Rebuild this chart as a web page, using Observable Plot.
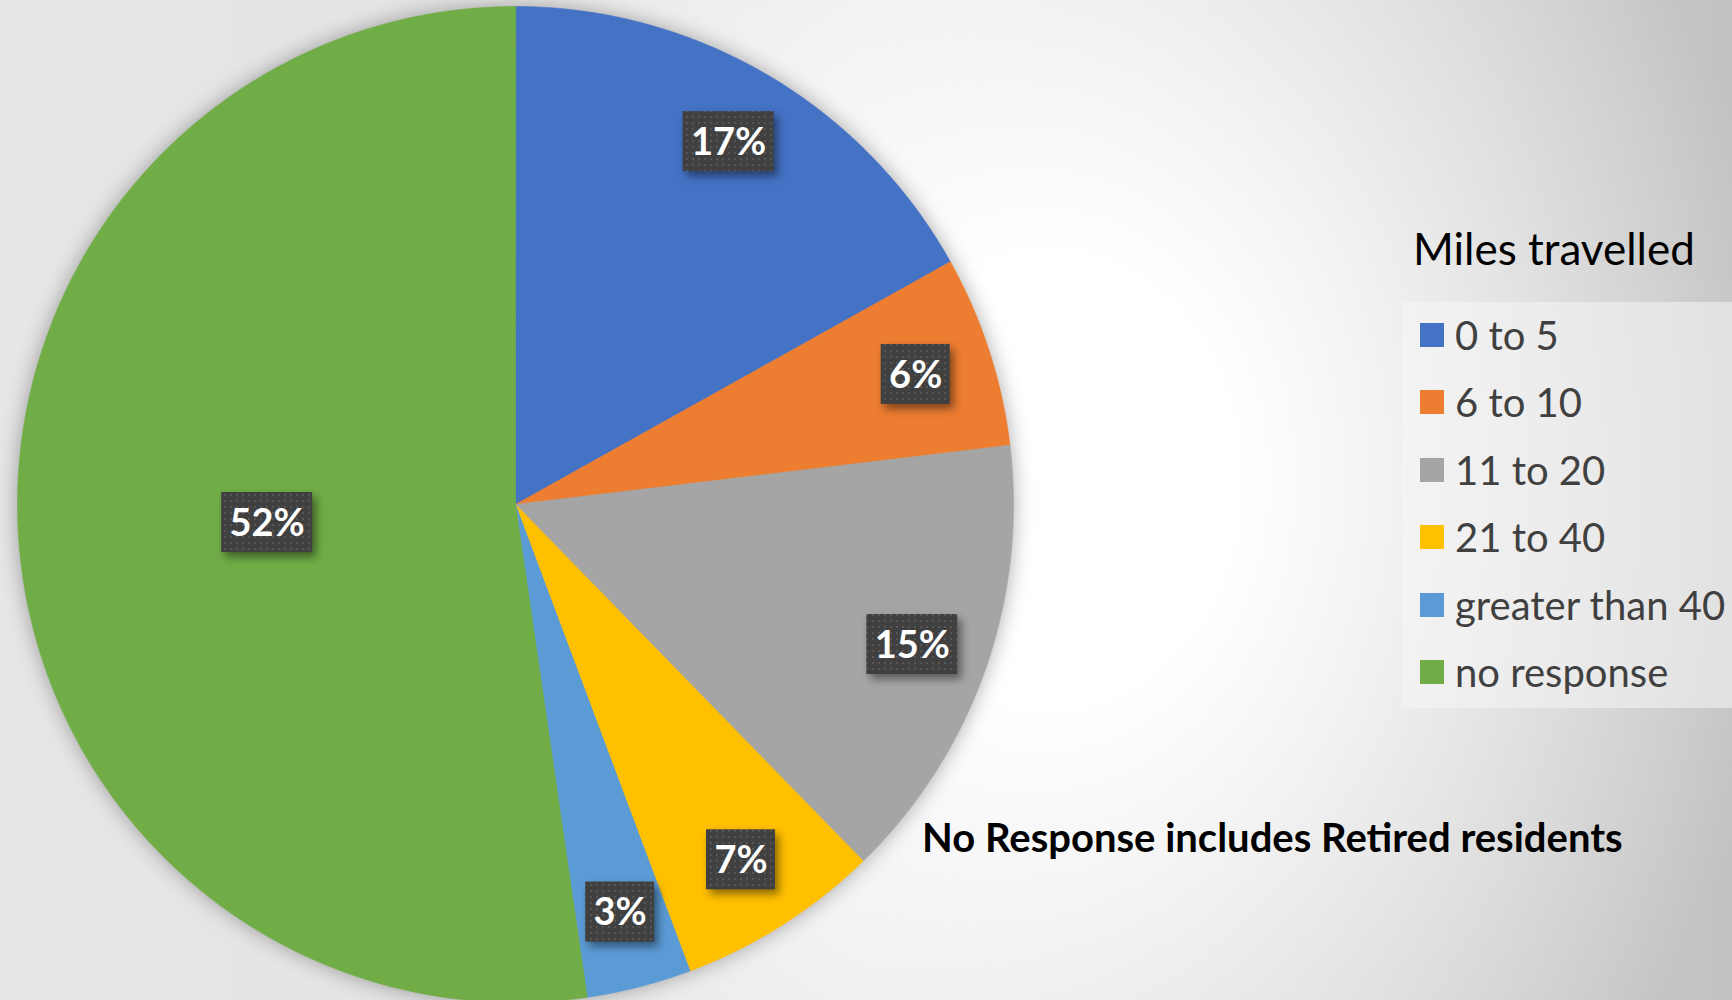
<!DOCTYPE html>
<html>
<head>
<meta charset="utf-8">
<script src="https://cdn.jsdelivr.net/npm/d3@7"></script>
<script src="https://cdn.jsdelivr.net/npm/@observablehq/plot@0.6"></script>
<style>
  html, body { margin: 0; padding: 0; }
  body {
    width: 1732px; height: 1000px; overflow: hidden;
    background:
      radial-gradient(ellipse 750px 900px at 1050px 480px, rgba(255,255,255,1) 0%, rgba(255,255,255,1) 25%, rgba(255,255,255,0.6) 55%, rgba(255,255,255,0) 100%),
      linear-gradient(to right, #e6e6e6 0%, #e2e2e2 50%, #c2c2c2 100%);
    font-family: Lato, "Open Sans", sans-serif;
  }
  #wrap { position: relative; width: 1732px; height: 1000px; }
  #chart { position: absolute; left: 0; top: 0; }
  #legend-title { position: absolute; left: 1413px; top: 226px; font-size: 44px; line-height: 44px; color: #000; white-space: nowrap; }
  #legend-box { position: absolute; left: 1402px; top: 302px; width: 330px; height: 406px; background: rgba(245,245,245,0.55); }
  .row { position: absolute; left: 1420px; height: 68px; display: flex; align-items: center; white-space: nowrap; }
  .sw { width: 24px; height: 24px; margin-right: 11px; }
  .lab { font-size: 40px; line-height: 40px; color: #404040; }
  #note { position: absolute; left: 922px; top: 817px; font-size: 40px; line-height: 40px; font-weight: bold; color: #000; white-space: nowrap; }
</style>
</head>
<body>
<div id="wrap">
  <div id="chart"></div>
  <div id="legend-box"></div>
  <div id="legend-title"></div>
  <div id="legend"></div>
  <div id="note"></div>
</div>
<script>
// ---- data ----
const categories = ["0 to 5", "6 to 10", "11 to 20", "21 to 40", "greater than 40", "no response"];
const shares = [16.9, 6.2, 14.6, 6.6, 3.4, 52.3];
const legendTitle = "Miles travelled";
const noteText = "No Response includes Retired residents";
const palette = ["#4472C4", "#ED7D31", "#A5A5A5", "#FFC000", "#5B9BD5", "#70AD47"];

// ---- derived geometry (unit circle, angle clockwise from 12 o'clock) ----
const total = d3.sum(shares);
let acc = 0;
const slices = categories.map((c, i) => {
  const a0 = acc / total * 2 * Math.PI;
  acc += shares[i];
  const a1 = acc / total * 2 * Math.PI;
  return {category: c, value: shares[i], a0, a1};
});
const slicePoints = [];
for (const s of slices) {
  slicePoints.push({category: s.category, x: 0, y: 0});
  const n = Math.max(2, Math.ceil((s.a1 - s.a0) / (Math.PI / 360)));
  for (let k = 0; k <= n; k++) {
    const a = s.a0 + (s.a1 - s.a0) * k / n;
    slicePoints.push({category: s.category, x: Math.sin(a), y: Math.cos(a)});
  }
}
const maxShare = d3.max(shares);
const PX = 498; // pixels per unit radius
const labels = slices.map(s => {
  const am = (s.a0 + s.a1) / 2;
  const r = s.value === maxShare ? 0.5 : 0.845;
  const text = Math.round(s.value / total * 100) + "%";
  const hw = (25 + 22 * text.length) / 2 / PX;
  const hh = 30 / PX;
  const x = r * Math.sin(am), y = r * Math.cos(am);
  return {text, x, y, x1: x - hw, x2: x + hw, y1: y - hh, y2: y + hh};
});

const plot = Plot.plot({
  width: 1732,
  height: 1000,
  margin: 0,
  style: {background: "transparent", overflow: "visible"},
  x: {domain: [-1, 1], range: [17, 1013], axis: null},
  y: {domain: [-1, 1], range: [1002, 6], axis: null},
  color: {domain: categories, range: palette},
  marks: [
    Plot.line(slicePoints, {x: "x", y: "y", z: "category", fill: "category", stroke: "category", strokeWidth: 0.6, curve: "linear-closed"}),
    Plot.rect(labels, {x1: "x1", x2: "x2", y1: "y1", y2: "y2", fill: "url(#dots)"}),
    Plot.text(labels, {x: "x", y: "y", text: "text", fill: "white", fontSize: 38, fontWeight: "bold", fontFamily: "Lato, 'Open Sans', sans-serif", dy: 1})
  ]
});

// patterns & shadows
const svg = d3.select(plot);
const defs = svg.insert("defs", ":first-child");
const pat = defs.append("pattern").attr("id", "dots").attr("patternUnits", "userSpaceOnUse").attr("width", 6).attr("height", 6);
pat.append("rect").attr("width", 6).attr("height", 6).attr("fill", "#404040");
pat.append("rect").attr("x", 2).attr("y", 2).attr("width", 2).attr("height", 2).attr("fill", "#565656");
svg.selectAll('g[aria-label="line"]').style("filter", "drop-shadow(0px 0px 10px rgba(0,0,0,0.32))");
svg.selectAll('g[aria-label="rect"]').style("filter", "drop-shadow(4px 5px 4px rgba(0,0,0,0.45))");
document.getElementById("chart").appendChild(plot);

// legend (HTML)
document.getElementById("legend-title").textContent = legendTitle;
const leg = document.getElementById("legend");
categories.forEach((c, i) => {
  const row = document.createElement("div");
  row.className = "row";
  row.style.top = (301 + 67.4 * i) + "px";
  const sw = document.createElement("div");
  sw.className = "sw";
  sw.style.background = plot.scale("color").apply(c);
  const lab = document.createElement("span");
  lab.className = "lab";
  lab.textContent = c;
  row.appendChild(sw); row.appendChild(lab);
  leg.appendChild(row);
});
document.getElementById("note").textContent = noteText;
</script>
</body>
</html>
